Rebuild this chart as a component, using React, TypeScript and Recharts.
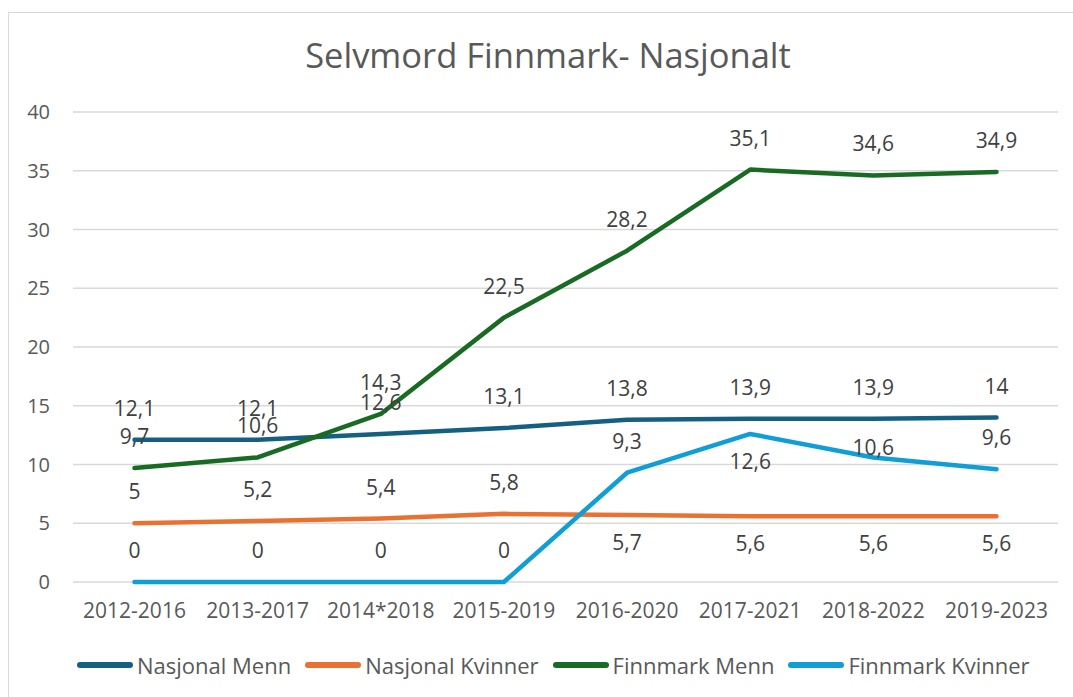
import { LineChart, Line, XAxis, YAxis, CartesianGrid, LabelList } from 'recharts';

const periods = ['2012-2016', '2013-2017', '2014*2018', '2015-2019', '2016-2020', '2017-2021', '2018-2022', '2019-2023'];
const nasjonalMenn = [12.1, 12.1, 12.6, 13.1, 13.8, 13.9, 13.9, 14];
const nasjonalKvinner = [5, 5.2, 5.4, 5.8, 5.7, 5.6, 5.6, 5.6];
const finnmarkMenn = [9.7, 10.6, 14.3, 22.5, 28.2, 35.1, 34.6, 34.9];
const finnmarkKvinner = [0, 0, 0, 0, 9.3, 12.6, 10.6, 9.6];
const yTicks = [0, 5, 10, 15, 20, 25, 30, 35, 40];

// where each data label sits relative to its point
const posNasjonalMenn = ['above', 'above', 'above', 'above', 'above', 'above', 'above', 'above'];
const posNasjonalKvinner = ['above', 'above', 'above', 'above', 'below', 'below', 'below', 'below'];
const posFinnmarkMenn = ['above', 'above', 'above', 'above', 'above', 'above', 'above', 'above'];
const posFinnmarkKvinner = ['above', 'above', 'above', 'above', 'above', 'below', 'on', 'above'];

const data = periods.map((p, i) => ({
    name: p,
    nm: nasjonalMenn[i],
    nk: nasjonalKvinner[i],
    fm: finnmarkMenn[i],
    fk: finnmarkKvinner[i],
}));

const series = [
    { key: 'nm', name: 'Nasjonal Menn', color: '#156082', pos: posNasjonalMenn },
    { key: 'nk', name: 'Nasjonal Kvinner', color: '#E97132', pos: posNasjonalKvinner },
    { key: 'fm', name: 'Finnmark Menn', color: '#196B24', pos: posFinnmarkMenn },
    { key: 'fk', name: 'Finnmark Kvinner', color: '#0F9ED5', pos: posFinnmarkKvinner },
];

const FONT = '"Open Sans", "Noto Sans", sans-serif';

const makeLabel = (pos: string[]) => (props: any) => {
    const { x, y, value, index } = props;
    const p = pos[index];
    const dy = p === 'below' ? 27 : p === 'on' ? -10 : -32;
    return (
        <text x={x} y={y + dy} textAnchor="middle" dominantBaseline="central" fill="#404040" fontSize={21} fontFamily={FONT}>
            {String(value).replace('.', ',')}
        </text>
    );
};

const App = () => {
    return (
        <div style={{ position: 'absolute', left: 0, top: 0, width: 1073, height: 697, overflow: 'hidden', background: '#fff' }}>
            <div style={{ position: 'absolute', left: 8, top: 12, width: 1100, height: 720, border: '1px solid #d9d9d9' }} />
            <div style={{ position: 'absolute', left: 0, top: 31, width: 1096, textAlign: 'center', fontFamily: FONT, fontSize: 34.5, color: '#595959' }}>
                Selvmord Finnmark- Nasjonalt
            </div>
            <div style={{ position: 'absolute', left: 0, top: 0 }}>
                <LineChart width={1073} height={697} data={data} margin={{ top: 112, right: 15, bottom: 0, left: 0 }}>
                    <CartesianGrid vertical={false} stroke="#d9d9d9" strokeWidth={1.5} />
                    <XAxis dataKey="name" axisLine={false} tickLine={false} height={115} tickMargin={15}
                        padding={{ left: 61.5, right: 61.5 }}
                        tick={{ fill: '#595959', fontSize: 21, fontFamily: FONT }} interval={0} />
                    <YAxis domain={[0, 40]} ticks={yTicks} axisLine={false} tickLine={false} width={73} tickMargin={17}
                        tick={{ fill: '#595959', fontSize: 20, fontFamily: FONT }} />
                    {series.map((s) => (
                        <Line key={s.key} type="linear" dataKey={s.key} name={s.name} stroke={s.color} strokeWidth={4.5}
                            strokeLinecap="round" strokeLinejoin="round" dot={false} isAnimationActive={false}>
                            <LabelList dataKey={s.key} content={makeLabel(s.pos)} />
                        </Line>
                    ))}
                </LineChart>
            </div>
            <div style={{ position: 'absolute', left: 77, top: 650, display: 'flex', alignItems: 'center', fontFamily: FONT, fontSize: 22, color: '#595959' }}>
                {series.map((s) => (
                    <div key={s.key} style={{ display: 'flex', alignItems: 'center', marginRight: 14 }}>
                        <div style={{ width: 56, height: 6, borderRadius: 3, background: s.color, marginRight: 4 }} />
                        <span>{s.name}</span>
                    </div>
                ))}
            </div>
        </div>
    );
};

export default App;
